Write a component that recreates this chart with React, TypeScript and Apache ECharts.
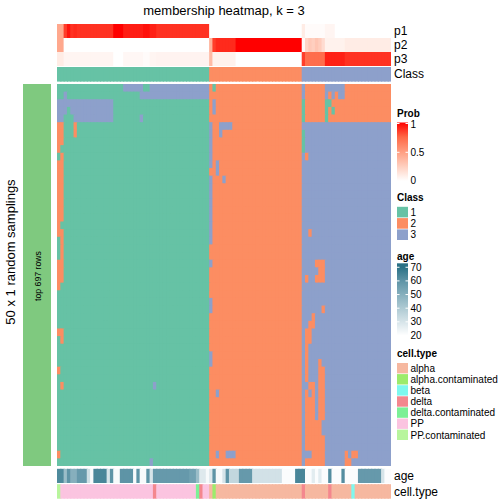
import React, { useEffect, useRef } from "react";
import * as echarts from "echarts";

// ---------- data (run-length encoded "value:count") ----------
const classLabels = ["1", "2", "3"];
const classColors = ["#66C2A5", "#FC8D62", "#8DA0CB"];
const cellTypes = ["alpha", "alpha.contaminated", "beta", "delta", "delta.contaminated", "PP", "PP.contaminated"];
const cellTypeColors = ["#F6B8A0", "#9CEB6B", "#7EF8EE", "#F4878E", "#7CF096", "#FBC4E0", "#B8F59D"];
const probRows = ["p1", "p2", "p3"];
const probTicks = ["1", "0.5", "0"];
const ageTicks = ["70", "60", "50", "40", "30", "20"];

const classAnnoRLE = "1:46 2:28 3:27";
const p1RLE = "0.45:2 0.85:1 0.95:1 0.88:1 0.9:1 0.88:11 1:3 0.93:6 0.96:2 0.92:2 0.88:16 0:28 0.1:1 0.02:6 0.05:3 0:17";
const p2RLE = "0.45:2 0:44 0.4:1 0.85:1 0.9:6 1:20 0.03:1 0.22:1 0.28:1 0.25:1 0.3:1 0.26:1 0.18:1 0.07:6 0.1:14";
const p3RLE = "0.1:2 0.05:15 0:3 0.04:6 0.02:2 0.05:2 0.06:16 0.35:1 0.07:7 0:20 0.85:1 0.72:6 0.92:6 0.88:14";
const ageRLE = "63:2 45:1 60:1 50:2 58:3 32:1 22:1 64:4 30:1 60:1 22:2 60:4 22:1 60:1 22:2 60:1 30:1 58:11 55:2 45:1 28:2 22:1 28:1 60:1 22:2 30:1 60:1 35:3 58:4 31:9 21:4 64:3 21:2 27:1 21:1 27:1 21:2 62:1 21:3 62:1 21:4 58:7 30:1 21:2";
const cellTypeRLE = "6:1 5:28 3:1 5:12 4:1 3:1 5:2 0:1 1:1 0:26 3:1 0:7 3:1 0:6 2:1 0:11";

const membershipRLE = [
  "1:20 3:6 1:2 3:18 | 2:1 1:1 2:26 | 3:1 2:6 3:6 2:14",
  "1:2 3:1 1:22 3:21 | 2:28 | 3:1 2:6 3:1 2:1 3:1 2:1 3:2 2:14",
  "3:17 1:29 | 2:1 3:1 2:26 | 1:1 2:6 1:2 2:18",
  "3:3 1:1 3:13 1:29 | 2:1 3:1 2:26 | 1:1 2:6 1:1 2:1 1:1 2:17",
  "3:2 1:3 3:12 1:8 3:1 1:20 | 2:28 | 1:1 2:6 1:1 2:19",
  "2:2 1:3 2:1 1:40 | 3:1 2:2 3:4 2:21 | 3:27",
  "2:2 1:3 2:1 1:40 | 3:1 2:2 3:1 2:24 | 1:1 3:26",
  "2:2 1:44 | 3:1 2:27 | 1:1 3:26",
  "2:1 1:45 | 3:1 2:27 | 1:1 3:26",
  "1:1 2:1 1:44 | 3:1 2:27 | 3:1 2:1 3:25",
  "2:2 1:44 | 3:1 2:1 3:1 2:25 | 3:27",
  "2:2 1:44 | 2:2 3:1 2:25 | 3:27",
  "2:2 1:44 | 3:1 2:3 3:1 2:23 | 3:27",
  "2:2 1:44 | 3:1 2:27 | 3:27",
  "2:2 1:44 | 3:1 2:27 | 3:27",
  "2:2 1:44 | 3:1 2:27 | 3:27",
  "2:2 1:44 | 3:1 2:27 | 3:27",
  "2:2 1:44 | 3:1 2:27 | 3:27",
  "2:1 1:45 | 3:1 2:27 | 3:27",
  "2:2 1:44 | 3:1 2:27 | 3:2 2:1 3:24",
  "1:1 2:1 1:44 | 3:1 2:27 | 3:27",
  "1:1 2:1 1:44 | 2:28 | 3:27",
  "1:1 2:1 1:44 | 2:28 | 3:27",
  "2:2 1:44 | 3:1 2:27 | 3:4 2:3 3:20",
  "2:2 1:44 | 2:28 | 3:5 2:2 3:20",
  "2:2 1:44 | 2:28 | 3:1 2:1 3:2 2:3 3:20",
  "2:1 1:45 | 2:28 | 3:27",
  "1:46 | 2:28 | 3:27",
  "1:46 | 3:1 2:27 | 3:27",
  "1:46 | 3:1 2:27 | 3:6 2:1 3:20",
  "1:46 | 2:28 | 3:3 2:1 3:23",
  "1:46 | 2:28 | 3:2 2:2 3:23",
  "2:2 1:44 | 2:28 | 3:1 2:2 3:24",
  "1:1 2:1 1:44 | 2:28 | 3:1 2:2 3:24",
  "1:46 | 2:28 | 3:1 2:1 3:25",
  "1:46 | 3:1 2:27 | 3:1 2:1 3:25",
  "1:46 | 3:1 2:27 | 3:1 2:1 3:3 2:1 3:21",
  "2:1 1:45 | 2:28 | 3:1 2:1 3:3 2:2 3:20",
  "1:46 | 2:28 | 3:1 2:1 3:3 2:2 3:20",
  "1:1 2:1 1:27 3:1 1:16 | 2:28 | 3:2 2:2 3:1 2:2 3:20",
  "1:46 | 2:2 3:1 2:25 | 3:1 2:1 3:1 2:1 3:1 2:2 3:20",
  "1:46 | 2:28 | 3:1 2:3 3:1 2:2 3:20",
  "1:46 | 2:28 | 3:1 2:3 3:1 2:2 3:20",
  "1:46 | 2:28 | 3:1 2:3 3:1 2:2 3:20",
  "1:46 | 2:28 | 3:1 2:5 3:21",
  "1:46 | 2:28 | 3:1 2:5 3:21",
  "1:46 | 2:28 | 3:1 2:6 3:20",
  "1:46 | 2:28 | 3:1 2:6 3:20",
  "2:1 1:45 | 2:2 3:1 2:2 3:3 2:20 | 3:3 2:4 3:6 2:1 3:1 2:2 3:10",
  "1:28 3:1 1:17 | 2:28 | 3:1 2:6 3:6 2:2 3:12",
];

const decode = (s: string): number[] => {
  const out: number[] = [];
  s.split(/\s+/)
    .filter((t) => t && t !== "|")
    .forEach((t) => {
      const [v, n] = t.split(":");
      for (let i = 0; i < Number(n); i++) out.push(Number(v));
    });
  return out;
};

const FONT = '"Liberation Sans", Arial, Helvetica, sans-serif';

// cell renderer: one rect per data item placed by the axes; right/bottom edges extended
// by 1px (except on the last column/row) so that the next cell covers the overlap: no seams
const makeRenderer = (nCols: number, nRows: number) => (params: any, api: any) => {
  const c = api.value(0), r = api.value(1);
  const p = api.coord([c, r]);
  const s = api.size([1, 1]);
  const ex = c < nCols - 1 ? 1.1 : 0;
  const ey = r < nRows - 1 ? 1.1 : 0;
  return {
    type: "rect",
    shape: { x: p[0] - s[0] / 2, y: p[1] - s[1] / 2, width: s[0] + ex, height: s[1] + ey },
    style: { fill: api.visual("color") },
    silent: true,
  };
};

export default function App() {
  const ref = useRef<HTMLDivElement>(null);

  useEffect(() => {
    document.body.style.margin = "0";
    if (!ref.current) return;
    const chart = echarts.init(ref.current, undefined, { renderer: "svg" });

    const classAnno = decode(classAnnoRLE);
    const probs = [decode(p1RLE), decode(p2RLE), decode(p3RLE)];
    const ages = decode(ageRLE);
    const cells = decode(cellTypeRLE);
    const membership = membershipRLE.map(decode);
    const nCol = classAnno.length;
    const colNames = classAnno.map((_, i) => "s" + (i + 1));
    const rowNames = membership.map((_, i) => "r" + (i + 1));

    const probData: number[][] = [];
    probs.forEach((row, r) => row.forEach((v, c) => probData.push([c, r, v])));
    const classData = classAnno.map((v, c) => [c, 0, v]);
    const bodyData: number[][] = [];
    membership.forEach((row, r) => row.forEach((v, c) => { if (c < nCol) bodyData.push([c, r, v]); }));
    const ageData = ages.map((v, c) => [c, 0, v]);
    const cellData = cells.map((v, c) => [c, 0, v]);

    const L = 57, W = 334;
    const grids = [
      { left: L, top: 24, width: W, height: 42 },
      { left: L, top: 67, width: W, height: 14.6 },
      { left: L, top: 84, width: W, height: 382 },
      { left: L, top: 468.8, width: W, height: 14.2 },
      { left: L, top: 484.2, width: W, height: 14.5 },
    ];
    const yData = [probRows, ["Class"], rowNames, ["age"], ["cell.type"]];

    const probColors = ["#FFFFFF", "#FFCFBF", "#FF9E81", "#FF6846", "#FF0000"];
    const ageColors = ["#FFFFFF", "#D6E4E9", "#AECAD3", "#86AFBD", "#5E94A6", "#2A7186"];

    const txt = (text: string, x: number, y: number, size: number, bold = false, align = "left", rotation = 0) => ({
      type: "text",
      x,
      y,
      rotation,
      silent: true,
      style: {
        text,
        fill: "#000",
        font: `${bold ? "bold " : ""}${size}px ${FONT}`,
        textAlign: align,
        textVerticalAlign: "middle",
      },
    });

    const LX = 397, LW = 11;
    const elements: any[] = [];
    elements.push(txt("membership heatmap, k = 3", 224, 10.5, 13, false, "center"));
    elements.push(txt("50 x 1 random samplings", 10.5, 252, 13, false, "center", Math.PI / 2));
    elements.push({ type: "rect", silent: true, shape: { x: 23, y: 84, width: 28, height: 382 }, style: { fill: "#7FC97F" } });
    elements.push(txt("top 697 rows", 37.5, 276, 8.7, false, "center", Math.PI / 2));
    probRows.forEach((p, i) => elements.push(txt(p, 394, 31 + i * 14, 12)));
    elements.push(txt("Class", 394, 74.3, 12));
    elements.push(txt("age", 394, 476, 12));
    elements.push(txt("cell.type", 394, 491.5, 12));

    // Prob legend
    elements.push(txt("Prob", LX, 113.5, 10, true));
    elements.push({
      type: "rect", silent: true,
      shape: { x: LX, y: 122.5, width: LW, height: 58.5 },
      style: {
        fill: new echarts.graphic.LinearGradient(0, 0, 0, 1,
          probColors.slice().reverse().map((c, i) => ({ offset: i / (probColors.length - 1), color: c }))),
      },
    });
    const probTickY = [123.5, 152.3, 181];
    probTicks.forEach((t, i) => {
      elements.push(txt(t, 410.5, probTickY[i] + (i === 2 ? -1 : i === 0 ? 0.5 : 0), 10));
      if (i < 2) {
        elements.push({ type: "line", silent: true, shape: { x1: LX, y1: probTickY[i], x2: LX + 2.5, y2: probTickY[i] }, style: { stroke: "#fff", lineWidth: 1 } });
        elements.push({ type: "line", silent: true, shape: { x1: LX + LW - 2.5, y1: probTickY[i], x2: LX + LW, y2: probTickY[i] }, style: { stroke: "#fff", lineWidth: 1 } });
      }
    });

    // Class legend
    elements.push(txt("Class", LX, 197.5, 10, true));
    classLabels.forEach((lab, i) => {
      const y = 206.8 + i * 11.3;
      elements.push({ type: "rect", silent: true, shape: { x: LX, y, width: LW, height: 10.6 }, style: { fill: classColors[i] } });
      elements.push(txt(lab, 410.5, y + 5.5, 10));
    });

    // age legend
    elements.push(txt("age", LX, 256, 10, true));
    const ageY = (v: number) => 335.5 - (v - 20) * 1.365;
    const aTop = 263.3, aBot = 337.5;
    const ageVals = [20, 30, 40, 50, 60, 70];
    const stops = ageVals.map((v, i) => ({ offset: (ageY(v) - aTop) / (aBot - aTop), color: ageColors[i] })).reverse();
    elements.push({
      type: "rect", silent: true,
      shape: { x: LX, y: aTop, width: LW, height: aBot - aTop },
      style: { fill: new echarts.graphic.LinearGradient(0, 0, 0, 1, [{ offset: 0, color: ageColors[5] }, ...stops, { offset: 1, color: "#FFFFFF" }]) },
    });
    ageTicks.forEach((t, i) => {
      const y = ageY(Number(t));
      elements.push(txt(t, 410.5, y, 10));
      if (i < 5) {
        elements.push({ type: "line", silent: true, shape: { x1: LX, y1: y, x2: LX + 2.5, y2: y }, style: { stroke: "#fff", lineWidth: 1 } });
        elements.push({ type: "line", silent: true, shape: { x1: LX + LW - 2.5, y1: y, x2: LX + LW, y2: y }, style: { stroke: "#fff", lineWidth: 1 } });
      }
    });

    // cell.type legend
    elements.push(txt("cell.type", LX, 353, 10, true));
    cellTypes.forEach((ct, i) => {
      const y = 363 + i * 11.1;
      elements.push({ type: "rect", silent: true, shape: { x: LX, y, width: LW, height: 10.4 }, style: { fill: cellTypeColors[i] } });
      elements.push(txt(ct, 410.5, y + 5.4, 10));
    });

    const mk = (i: number, data: number[][], nRows: number) => ({
      type: "custom",
      xAxisIndex: i,
      yAxisIndex: i,
      data,
      encode: { x: 0, y: 1 },
      renderItem: makeRenderer(nCol, nRows),
      silent: true,
      clip: false,
    });

    const option: any = {
      animation: false,
      backgroundColor: "#ffffff",
      grid: grids,
      xAxis: grids.map((_, i) => ({ type: "category", gridIndex: i, data: colNames, show: false })),
      yAxis: grids.map((_, i) => ({ type: "category", gridIndex: i, data: yData[i], inverse: true, show: false })),
      visualMap: [
        {
          type: "piecewise", show: false, seriesIndex: [1, 2], dimension: 2,
          pieces: classLabels.map((l, i) => ({ value: Number(l), color: classColors[i] })),
        },
        { type: "continuous", show: false, seriesIndex: 0, dimension: 2, min: 0, max: 1, inRange: { color: probColors } },
        { type: "continuous", show: false, seriesIndex: 3, dimension: 2, min: 20, max: 70, inRange: { color: ageColors } },
        {
          type: "piecewise", show: false, seriesIndex: 4, dimension: 2,
          pieces: cellTypes.map((_, i) => ({ value: i, color: cellTypeColors[i] })),
        },
      ],
      series: [
        mk(0, probData, probRows.length),
        mk(1, classData, 1),
        mk(2, bodyData, membership.length),
        mk(3, ageData, 1),
        mk(4, cellData, 1),
      ],
      graphic: { elements },
    };
    chart.setOption(option);
    return () => chart.dispose();
  }, []);

  return <div ref={ref} style={{ width: 504, height: 504, position: "absolute", left: 0, top: 0 }} />;
}
